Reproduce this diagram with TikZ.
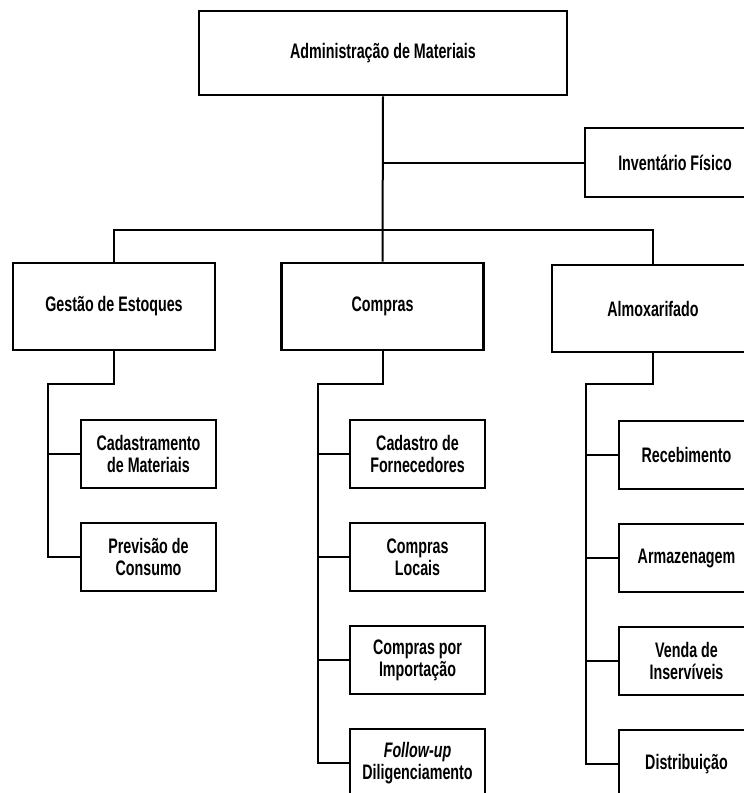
\documentclass[tikz,border=0pt]{standalone}
\usepackage{fontspec}
\setmainfont{Liberation Sans}[FakeStretch=0.68]

\begin{document}
\begin{tikzpicture}[
	x=1pt, y=-1pt,
	box/.style={
		rectangle,
		draw=black,
		line width=2.6pt,
		align=center,
		inner sep=0pt,
		font=\bfseries\fontsize{21}{22}\selectfont
	},
	head/.style={
		box,
		minimum width=368pt,
		minimum height=84pt
	},
	area/.style={
		box,
		minimum width=202pt,
		minimum height=87pt
	},
	sub/.style={
		box,
		minimum width=135pt,
		minimum height=68pt
	},
	link/.style={
		line width=2pt
	},
]

\useasboundingbox (0,0) rectangle (744,793);
\clip (0,0) rectangle (744,793);

\node[head] (adm) at (383, 53) {Administração de Materiais};
\node[box, minimum width=180pt, minimum height=69pt] (inv) at (675, 162.5) {Inventário Físico};

\node[area] (gest) at (114, 306.5) {Gestão de Estoques};
\node[area] (comp) at (382.5, 306.5) {Compras};
\node[area] (almox) at (653, 308.5) {Almoxarifado};

\foreach \txt [count=\i] in {{Cadastramento\\de Materiais}, {Previsão de\\Consumo}}
	\node[sub] (gest\i) at (148.5, 454+103*\i-103) {\txt};

\foreach \txt [count=\i] in {{Cadastro de\\Fornecedores}, {Compras\\Locais},
		{Compras por\\Importação}, {\textit{Follow-up}\\Diligenciamento}}
	\node[sub] (comp\i) at (417.5, 454+103*\i-103) {\txt};

\foreach \txt [count=\i] in {Recebimento, Armazenagem, {Venda de\\Inservíveis}, Distribuição}
	\node[sub] (almox\i) at (686.5, 455+103*\i-103) {\txt};

\coordinate (bus) at (115, 230);
\coordinate (gs) at (48, 384);
\coordinate (cs) at (318, 384);
\coordinate (as) at (586, 384);

\draw[link] (adm.south) -- (comp.north);
\draw[link] (inv.west) -- (inv.west -| adm.south);
\draw[link] (gest.north) |- (bus) -| (almox.north);

\draw[link] (gest.south) |- (gs) |- (gest2.west);
\draw[link] (gest1.west) -- (gest1.west -| gs);

\draw[link] (comp.south) |- (cs) |- (comp4.west);
\foreach \i in {1, ..., 3}
	\draw[link] (comp\i.west) -- (comp\i.west -| cs);

\draw[link] (almox.south) |- (as) |- (almox4.west);
\foreach \i in {1, ..., 3}
	\draw[link] (almox\i.west) -- (almox\i.west -| as);

\end{tikzpicture}
\end{document}
